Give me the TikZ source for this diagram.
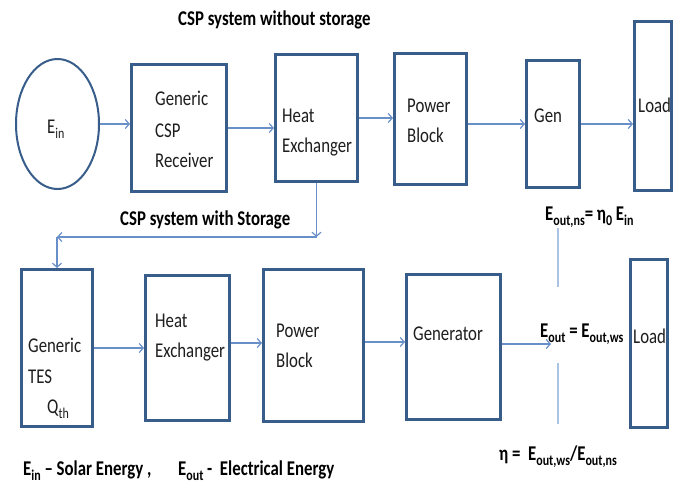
\documentclass[tikz,border=0pt]{standalone}
\usepackage{fontspec}
\setmainfont{Carlito}[FakeStretch=0.8]
\usetikzlibrary{arrows.meta,shapes.geometric}
\definecolor{boxc}{RGB}{56,93,138}
\definecolor{arrc}{RGB}{105,143,200}
\definecolor{vlc}{RGB}{170,195,228}
\definecolor{txtc}{RGB}{30,30,30}
\newcommand\sbs[1]{\raisebox{-0.28em}{\fontsize{15}{15}\selectfont #1}}
\begin{document}
\begin{tikzpicture}[x=1pt,y=-1pt,
  blk/.style={draw=boxc,line width=3pt,rectangle,inner sep=0pt},
  lbl/.style={anchor=base west,inner sep=0pt,text=txtc,font=\fontsize{21}{21}\selectfont},
  bld/.style={anchor=base west,inner sep=0pt,text=black,font=\fontsize{21}{21}\selectfont\bfseries},
  arr/.style={draw=arrc,line width=1.2pt,-{Straight Barb[length=4pt,width=9pt]}},
  vln/.style={draw=vlc,line width=2pt}]
\useasboundingbox[fill=white] (0,0) rectangle (684,485);
% top row
\node[draw=boxc,line width=2pt,ellipse,minimum width=83pt,minimum height=130pt,inner sep=0pt] (ein) at (57.5,124) {};
\node[blk,minimum width=95pt,minimum height=127pt] (rec) at (179,128) {};
\node[blk,minimum width=82pt,minimum height=127pt] (hx1) at (316.5,118) {};
\node[blk,minimum width=72pt,minimum height=131pt] (pb1) at (430.5,119) {};
\node[blk,minimum width=53pt,minimum height=127pt] (gen1) at (553,124) {};
\node[blk,minimum width=37pt,minimum height=169pt] (load1) at (653,106) {};
% bottom row
\node[blk,minimum width=71pt,minimum height=157pt] (tes) at (57,348) {};
\node[blk,minimum width=84pt,minimum height=145pt] (hx2) at (187.5,348) {};
\node[blk,minimum width=100pt,minimum height=152pt] (pb2) at (313.5,345.5) {};
\node[blk,minimum width=94pt,minimum height=145pt] (gen2) at (453.5,347) {};
\node[blk,minimum width=37pt,minimum height=168pt] (load2) at (649,343.5) {};
% labels top
\node[lbl] (einT) at (47,133) {E\sbs{in}};
\node[lbl] (recA) at (155,105) {Generic};
\node[lbl] (recB) at (155,137) {CSP};
\node[lbl] (recC) at (155,167) {Receiver};
\node[lbl] (hx1A) at (282,122) {Heat};
\node[lbl] (hx1B) at (282,152) {Exchanger};
\node[lbl] (pb1A) at (407,112) {Power};
\node[lbl] (pb1B) at (407,142) {Block};
\node[lbl] (gen1T) at (534,122) {Gen};
\node[lbl] (load1T) at (638,112) {Load};
% labels bottom
\node[lbl] (tesA) at (28,352) {Generic};
\node[lbl] (tesB) at (28,383) {TES};
\node[lbl] (tesC) at (47,413) {Q\sbs{th}};
\node[lbl] (hx2A) at (155,327) {Heat};
\node[lbl] (hx2B) at (155,357) {Exchanger};
\node[lbl] (pb2A) at (276,337) {Power};
\node[lbl] (pb2B) at (276,367) {Block};
\node[lbl] (gen2T) at (413,340) {Generator};
\node[lbl] (load2T) at (633,343) {Load};
% bold texts
\node[bld] (title1) at (178,25) {CSP system without storage};
\node[bld] (title2) at (120,225) {CSP system with Storage};
\node[bld] (eqns) at (545,220) {E\sbs{out,ns}= η\sbs{0} E\sbs{in}};
\node[bld] (eqout) at (540,337) {E\sbs{out} = E\sbs{out,ws}};
\node[bld] (eqeta) at (499,460) {η =\ \ E\sbs{out,ws}/E\sbs{out,ns}};
\node[bld] (legin) at (23,475) {E\sbs{in} – Solar Energy ,};
\node[bld] (legout) at (178,475) {E\sbs{out} -\ \ Electrical Energy};
% coordinates
\coordinate (turnR) at (316.5,237);
\coordinate (turnL) at (57,237);
\coordinate (eoutpt) at (551,344);
\coordinate (vA1) at (558,228);
\coordinate (vA2) at (558,287);
\coordinate (vB1) at (558,363);
\coordinate (vB2) at (558,424);
% arrows top
\draw[arr] (ein.east) -- (ein.east -| rec.west);
\draw[arr] (rec.east) -- (rec.east -| hx1.west);
\draw[arr] (hx1.east) -- (hx1.east -| pb1.west);
\draw[arr] (gen1.west -| pb1.east) -- (gen1.west);
\draw[arr] (gen1.east) -- (gen1.east -| load1.west);
% storage branch
\draw[arr] (hx1.south) -- (turnR);
\draw[arr] (turnR) -- (turnL);
\draw[arr] (turnL) -- (tes.north);
% arrows bottom
\draw[arr] (tes.east) -- (tes.east -| hx2.west);
\draw[arr] ([yshift=5pt]hx2.east) -- ([yshift=5pt]hx2.east -| pb2.west);
\draw[arr] ([yshift=5pt]gen2.west -| pb2.east) -- ([yshift=5pt]gen2.west);
\draw[arr] (gen2.east |- eoutpt) -- (eoutpt);
% light vertical line
\draw[vln] (vA1) -- (vA2);
\draw[vln] (vB1) -- (vB2);
\end{tikzpicture}
\end{document}
